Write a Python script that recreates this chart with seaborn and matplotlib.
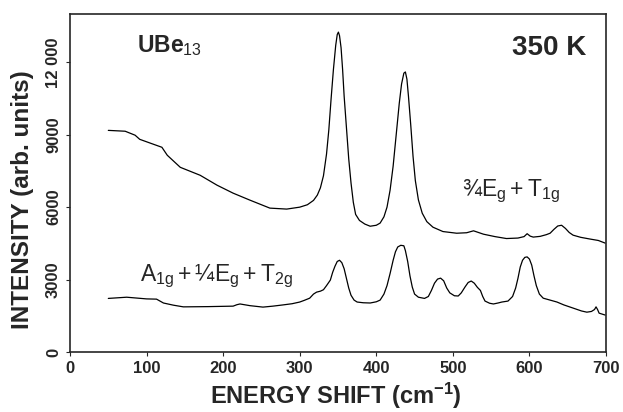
import pandas as pd
import seaborn as sns
import matplotlib.pyplot as plt

# Upper spectrum (3/4 Eg + T1g)
upper_x = [50, 72, 85, 91, 105, 120, 127, 144, 170, 192, 213, 235, 261, 283, 300, 310,
           318, 323, 327, 331, 335, 338, 341, 344, 347, 349, 350.5, 352, 354, 356, 358,
           361, 364, 367, 370, 373, 378, 385, 392, 400, 405, 410, 414, 418, 422, 426,
           430, 433, 436, 438, 440, 442, 445, 448, 451, 455, 460, 466, 474, 487, 505,
           518, 527, 540, 555, 570, 585, 593, 597, 601, 605, 614, 622, 627, 632, 637,
           642, 647, 652, 657, 667, 679, 690, 699]
upper_y = [9180, 9145, 8980, 8810, 8650, 8480, 8150, 7650, 7320, 6910, 6580, 6290, 5960,
           5920, 6000, 6100, 6280, 6500, 6800, 7300, 8200, 9200, 10500, 11700, 12700,
           13150, 13250, 13100, 12600, 11700, 10600, 9300, 8000, 7000, 6200, 5700,
           5450, 5300, 5210, 5250, 5340, 5600, 6000, 6700, 7700, 9000, 10300, 11100,
           11550, 11600, 11300, 10600, 9400, 8100, 7100, 6300, 5750, 5400, 5170, 4990,
           4920, 4940, 5020, 4880, 4780, 4700, 4720, 4780, 4900, 4800, 4760, 4790, 4860,
           4920, 5080, 5220, 5250, 5120, 4950, 4840, 4750, 4680, 4620, 4510]

# Lower spectrum (A1g + 1/4 Eg + T2g)
lower_x = [50, 74, 100, 113, 122, 135, 148, 180, 213, 218, 222, 235, 252, 265, 278, 290,
           300, 306, 313, 318, 322, 327, 331, 335, 340, 343, 346, 349, 352, 355, 358,
           361, 364, 367, 371, 375, 383, 392, 400, 405, 410, 414, 418, 422, 425, 428,
           432, 436, 438, 441, 444, 447, 450, 455, 463, 468, 472, 476, 480, 484, 488,
           492, 496, 502, 507, 511, 516, 520, 524, 528, 532, 536, 539, 542, 548, 553,
           559, 564, 572, 578, 582, 585, 588, 591, 594, 597, 600, 603, 606, 609, 613,
           618, 627, 636, 645, 657, 668, 675, 681, 685, 687, 689, 691, 695, 699]
lower_y = [2220, 2270, 2200, 2190, 2030, 1940, 1870, 1880, 1900, 1960, 1990, 1920, 1860,
           1900, 1950, 2000, 2070, 2140, 2230, 2400, 2480, 2520, 2580, 2750, 2980,
           3300, 3550, 3750, 3800, 3700, 3450, 3050, 2650, 2350, 2150, 2070, 2040,
           2030, 2080, 2150, 2400, 2750, 3250, 3800, 4150, 4350, 4420, 4400, 4200,
           3750, 3150, 2690, 2400, 2270, 2220, 2300, 2550, 2850, 3020, 3060, 2950,
           2650, 2450, 2330, 2320, 2450, 2700, 2880, 2940, 2850, 2680, 2550, 2300,
           2110, 2020, 1990, 2030, 2070, 2110, 2300, 2650, 3050, 3520, 3800, 3920,
           3940, 3850, 3600, 3150, 2750, 2400, 2230, 2150, 2070, 1950, 1820, 1700,
           1650, 1680, 1760, 1870, 1760, 1610, 1570, 1530]

x_ticks = [0, 100, 200, 300, 400, 500, 600, 700]
y_ticks = [0, 3000, 6000, 9000, 12000]
y_tick_labels = ["0", "3000", "6000", "9000", "12 000"]

df = pd.concat([
    pd.DataFrame({"shift": upper_x, "intensity": upper_y, "spectrum": "upper"}),
    pd.DataFrame({"shift": lower_x, "intensity": lower_y, "spectrum": "lower"}),
])

sns.set_style("ticks")
plt.rcParams["font.family"] = ["Liberation Sans", "DejaVu Sans"]
plt.rcParams["mathtext.fontset"] = "custom"
plt.rcParams["mathtext.rm"] = "Liberation Sans"
plt.rcParams["mathtext.it"] = "Liberation Sans"
plt.rcParams["mathtext.bf"] = "Liberation Sans:bold"

fig = plt.figure(figsize=(6.23, 4.12), dpi=100)
ax = fig.add_axes([0.1124, 0.1456, 0.8603, 0.8204])

sns.lineplot(data=df, x="shift", y="intensity", units="spectrum", estimator=None,
             color="black", linewidth=0.9, sort=False, ax=ax)

ax.set_xlim(0, 700)
ax.set_ylim(0, 14000)
ax.set_xticks(x_ticks)
ax.set_xticklabels([str(t) for t in x_ticks], fontsize=12, fontweight="bold")
ax.set_yticks(y_ticks)
ax.set_yticklabels(y_tick_labels, fontsize=12, fontweight="bold", rotation=90, va="center")
ax.tick_params(direction="out", length=3, width=0.8)
for s in ax.spines.values():
    s.set_linewidth(1.2)

ax.set_xlabel(r"ENERGY SHIFT (cm$^{\mathbf{-1}}$)", fontsize=17, fontweight="bold")
ax.xaxis.set_label_coords(0.496, -0.085)
ax.set_ylabel("INTENSITY (arb. units)", fontsize=17.5, fontweight="bold")
ax.yaxis.set_label_coords(-0.068, 0.45)

ax.text(87, 12700, r"$\mathbf{UBe}_{\mathregular{13}}$", fontsize=16.5, va="center", ha="left")
ax.text(674, 12600, "350 K", fontsize=20, fontweight="bold", va="center", ha="right")
ax.text(512, 6650, r"$\mathregular{¾E_g + T_{1g}}$", fontsize=16.5, va="center", ha="left")
ax.text(91, 3150, r"$\mathregular{A_{1g} + ¼E_g + T_{2g}}$", fontsize=16.5, va="center", ha="left")

fig.savefig("out.png", dpi=100)
